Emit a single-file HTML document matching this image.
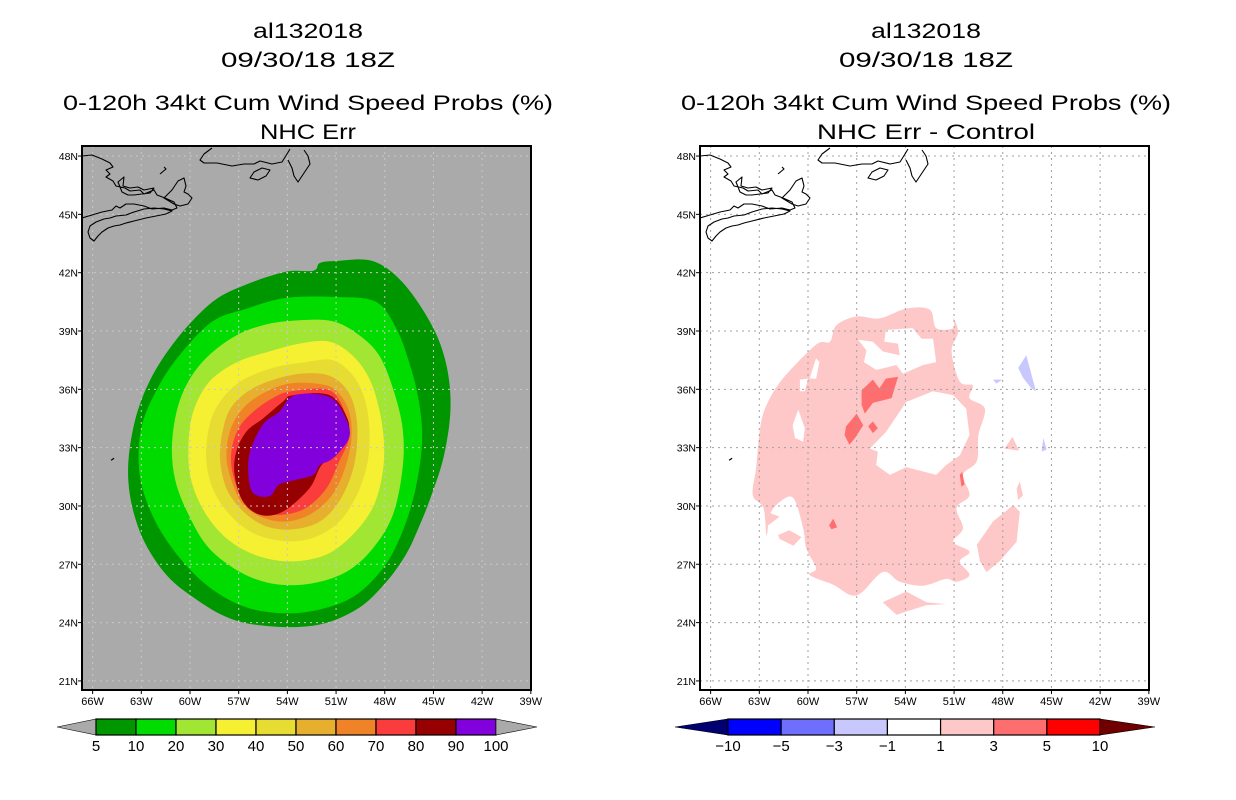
<!DOCTYPE html>
<html><head><meta charset="utf-8">
<style>
html,body{margin:0;padding:0;background:#fff;}
svg{display:block;}
text{font-family:"Liberation Sans",sans-serif;fill:#000;}
</style></head>
<body>
<svg id="chart" width="1236" height="800" viewBox="0 0 1236 800" xmlns="http://www.w3.org/2000/svg">
<defs>
<clipPath id="clipL"><rect x="82" y="146" width="449" height="544"/></clipPath>
<clipPath id="clipR"><rect x="700" y="146" width="449" height="544"/></clipPath>
</defs>
<g id="titles">
<text x="308" y="38" font-size="21" text-anchor="middle" textLength="110" lengthAdjust="spacingAndGlyphs">al132018</text>
<text x="308" y="67" font-size="21" text-anchor="middle" textLength="174" lengthAdjust="spacingAndGlyphs">09/30/18 18Z</text>
<text x="308" y="110" font-size="21" text-anchor="middle" textLength="490" lengthAdjust="spacingAndGlyphs">0-120h 34kt Cum Wind Speed Probs (%)</text>
<text x="308" y="139" font-size="21" text-anchor="middle" textLength="96" lengthAdjust="spacingAndGlyphs">NHC Err</text>
<text x="926" y="38" font-size="21" text-anchor="middle" textLength="110" lengthAdjust="spacingAndGlyphs">al132018</text>
<text x="926" y="67" font-size="21" text-anchor="middle" textLength="174" lengthAdjust="spacingAndGlyphs">09/30/18 18Z</text>
<text x="926" y="110" font-size="21" text-anchor="middle" textLength="490" lengthAdjust="spacingAndGlyphs">0-120h 34kt Cum Wind Speed Probs (%)</text>
<text x="926" y="139" font-size="21" text-anchor="middle" textLength="218" lengthAdjust="spacingAndGlyphs">NHC Err - Control</text>
</g>
<g id="left"></g>
<g id="right"></g>
<g id="cbars"></g>
</svg>
<script>
const latTicks=[48,45,42,39,36,33,30,27,24,21];
const lonTicks=[66,63,60,57,54,51,48,45,42,39];
const probLevels=[5,10,20,30,40,50,60,70,80,90,100];
const probColors=["#009600","#00dc00","#a0e632","#f5f032","#e6dc32","#e6af2d","#f08228","#fa3c3c","#960000","#8200dc"];
const diffLevels=[-10,-5,-3,-1,1,3,5,10];
const diffColors=["#000070","#0000ff","#6e6eff","#c8c8ff","#ffffff","#ffc8c8","#ff6e6e","#ff0000","#700000"];
const p5=[[51.0,42.6],[48.75,42.6],[46.9,41.5],[45.1,39.3],[44.2,37.25],[43.95,35.0],[44.35,32.6],[45.1,30.6],[45.9,28.9],[46.7,27.5],[47.9,26.1],[49.6,24.75],[52.0,23.9],[54.9,23.8],[57.5,24.2],[59.8,25.3],[61.6,26.6],[63.1,28.7],[63.8,31.3],[63.5,34.0],[62.5,36.4],[60.8,38.6],[58.6,40.5],[56.5,41.4],[54.1,42.05],[52.4,42.1],[52.0,42.5]];
const p10=[[51.0,40.75],[48.55,40.5],[47.3,39.15],[46.5,37.4],[45.9,35.4],[45.7,33.3],[46.1,30.9],[46.9,28.7],[48.1,26.8],[50.0,25.3],[52.4,24.6],[54.7,24.5],[56.9,24.9],[59.0,25.95],[60.8,27.5],[62.25,29.4],[63.1,31.6],[63.0,34.0],[62.0,36.05],[60.6,37.8],[58.6,39.5],[56.5,40.15],[54.1,40.7]];
const p20=[[53.25,39.55],[51.2,39.5],[49.6,38.8],[48.35,37.75],[47.5,36.05],[46.9,34.0],[46.9,31.95],[47.5,29.55],[48.75,27.8],[50.4,26.6],[52.6,26.0],[54.9,26.0],[56.9,26.6],[58.8,27.8],[60.0,29.4],[60.9,31.3],[61.1,33.3],[60.6,35.5],[59.4,37.25],[57.5,38.6],[55.5,39.3]];
const p30=[[53.25,38.35],[51.4,38.45],[50.0,37.75],[48.95,36.55],[48.35,35.0],[48.05,33.3],[48.15,31.6],[48.75,29.9],[50.0,28.5],[51.6,27.5],[53.65,27.15],[55.7,27.4],[57.55,28.2],[59.0,29.55],[59.9,31.25],[60.1,33.0],[59.8,34.85],[58.8,36.4],[57.1,37.4],[55.1,37.95]];
const p40=[[52.85,37.4],[51.2,37.5],[50.0,36.75],[49.25,35.55],[48.95,34.0],[49.05,32.3],[49.7,30.6],[50.8,29.2],[52.45,28.35],[54.3,28.2],[56.1,28.6],[57.55,29.55],[58.6,30.9],[59.0,32.45],[58.8,34.15],[58.15,35.35],[56.9,36.4],[54.9,37.1]];
const p50=[[53.65,36.75],[51.6,36.75],[50.4,36.05],[49.8,34.85],[49.7,33.3],[50.0,31.75],[50.8,30.25],[52.0,29.2],[53.65,28.8],[55.3,28.95],[56.7,29.7],[57.75,30.9],[58.15,32.45],[57.95,34.0],[57.35,35.2],[55.9,36.15]];
const p60=[[53.85,36.3],[51.6,36.2],[50.6,35.55],[50.1,34.5],[50.1,33.15],[50.6,31.6],[51.4,30.4],[52.65,29.55],[54.1,29.2],[55.5,29.4],[56.7,30.05],[57.35,31.1],[57.75,32.45],[57.55,33.8],[56.9,34.85],[55.7,35.7]];
const p70=[[53.75,35.9],[51.4,35.95],[50.4,34.7],[50.2,33.5],[50.8,32.3],[51.6,30.9],[52.85,29.9],[54.3,29.55],[55.7,29.7],[56.75,30.4],[57.35,31.6],[57.45,32.8],[57.0,34.0],[56.1,34.85],[54.9,35.55]];
const p80=[[53.65,35.7],[51.4,35.7],[50.3,34.5],[50.3,33.5],[51.0,32.6],[51.9,32.1],[52.65,30.9],[54.3,29.7],[55.7,29.55],[56.75,30.25],[57.25,31.6],[57.15,32.8],[56.5,33.85],[55.5,34.5],[54.3,35.35]];
const p90=[[53.55,35.7],[51.4,35.6],[50.4,34.5],[50.2,33.5],[51.2,32.45],[52.0,32.1],[52.4,31.6],[53.45,31.35],[54.5,31.1],[55.1,30.5],[56.1,30.65],[56.4,31.6],[56.3,32.8],[55.5,34.2],[54.5,34.85]];
const dPinkMain=[[58.25,39.3],[57.0,39.75],[55.6,39.65],[53.95,40.15],[52.5,40.1],[52.1,39.15],[51.05,39.15],[51.05,39.65],[50.75,38.95],[51.15,37.95],[50.65,36.4],[49.85,36.2],[50.05,35.55],[49.1,35.0],[49.5,33.65],[49.6,32.3],[50.45,31.6],[50.05,30.55],[50.85,29.9],[50.45,28.85],[51.05,28.15],[50.05,27.65],[50.65,27.15],[50.05,26.45],[50.85,26.1],[51.5,26.25],[52.9,25.9],[54.35,26.1],[55.4,26.6],[57.0,25.4],[58.45,25.95],[59.9,26.45],[59.5,26.8],[60.1,27.8],[60.3,28.85],[60.9,30.4],[61.75,30.2],[62.35,29.55],[62.55,28.5],[62.75,29.9],[63.4,30.55],[63.2,31.95],[62.95,34.0],[62.55,35.2],[61.55,36.55],[59.5,38.3],[58.65,38.45]];
const dHoleCenter=[[53.95,35.35],[52.3,35.9],[51.05,35.7],[50.25,35.0],[50.05,33.65],[50.65,32.6],[51.5,32.1],[52.1,31.6],[53.95,32.0],[54.95,31.6],[55.8,32.1],[55.7,32.8],[56.2,32.95],[55.2,33.8]];
const dHoleUpper=[[55.2,39.05],[53.55,39.15],[53.0,38.6],[52.3,38.6],[52.1,37.4],[52.9,37.25],[54.15,36.8],[54.55,37.25],[55.8,37.0],[56.55,37.4],[56.4,38.0],[56.9,38.55],[56.0,38.45],[55.4,37.95],[54.35,37.75],[54.45,38.35],[55.3,38.45]];
const dHoleA=[[60.6,34.95],[60.2,34.0],[60.3,33.3],[60.8,33.5],[60.95,34.15]];
const dHoleB=[[60.5,36.5],[60.0,36.55],[60.2,35.9],[60.5,35.9]];
const dHoleC=[[59.5,37.6],[59.3,37.4],[59.5,36.55],[59.9,36.55]];
const dPinkBottom=[[55.4,25.05],[53.95,25.6],[52.7,25.05],[51.5,24.95],[52.7,24.9],[54.55,24.4]];
const dPinkRight=[[49.6,28.0],[48.6,29.2],[47.35,30.05],[46.95,29.7],[47.15,28.15],[48.2,27.15],[49.0,26.6],[49.4,27.15]];
const dPinkSW1=[[62.55,29.7],[61.75,29.45],[62.45,29.0]];
const dPinkSW2=[[61.85,28.5],[61.15,28.75],[60.4,28.4],[60.9,27.95],[61.75,28.3]];
const dPinkE1=[[47.9,32.95],[47.4,33.55],[47.0,32.85]];
const dPinkE2=[[47.15,30.9],[46.95,31.25],[46.75,30.55],[47.05,30.3]];
const dRed1=[[56.7,35.95],[56.0,36.5],[55.6,36.05],[55.2,36.55],[54.45,36.65],[54.85,35.55],[56.0,35.3],[56.5,34.75],[56.7,35.2]];
const dRed2=[[57.0,34.75],[56.6,34.15],[57.1,33.5],[57.45,33.15],[57.75,33.65],[57.65,34.1]];
const dRed3=[[56.3,34.1],[56.0,34.35],[55.7,34.0],[56.0,33.75]];
const dRed4=[[58.7,29.0],[58.45,29.35],[58.2,28.9],[58.55,28.8]];
const dRed5=[[50.65,31.6],[50.5,31.75],[50.35,31.1],[50.55,31.0]];
const dBlue1=[[47.05,37.1],[46.55,37.75],[45.95,35.9],[46.25,36.05],[46.75,36.6]];
const dBlue2=[[45.5,33.5],[45.3,32.9],[45.6,32.8]];
const dBlue3=[[48.6,36.5],[48.0,36.5],[48.4,36.3]];

const NS="http://www.w3.org/2000/svg";
function xOf(w,off){return 190+(60-w)*16.23+off;}
function yOf(lat){return 331+(39-lat)*19.44;}
function mk(tag,attrs,parent){const e=document.createElementNS(NS,tag);for(const k in attrs)e.setAttribute(k,attrs[k]);parent.appendChild(e);return e;}
function polyPts(arr,off){return arr.map(p=>xOf(p[0],off).toFixed(1)+","+yOf(p[1]).toFixed(1)).join(" ");}
function smoothPath(arr,off){
  const P=arr.map(p=>[xOf(p[0],off),yOf(p[1])]);const n=P.length;
  let d="M"+P[0][0].toFixed(1)+","+P[0][1].toFixed(1);
  for(let i=0;i<n;i++){
    const p0=P[(i-1+n)%n],p1=P[i],p2=P[(i+1)%n],p3=P[(i+2)%n];
    const c1x=p1[0]+(p2[0]-p0[0])/6,c1y=p1[1]+(p2[1]-p0[1])/6;
    const c2x=p2[0]-(p3[0]-p1[0])/6,c2y=p2[1]-(p3[1]-p1[1])/6;
    d+=" C"+c1x.toFixed(1)+","+c1y.toFixed(1)+" "+c2x.toFixed(1)+","+c2y.toFixed(1)+" "+p2[0].toFixed(1)+","+p2[1].toFixed(1);
  }
  return d+"Z";
}

const coast="M0,10 L10,9 L20,13 L28,17 L31,21 L24,24 L28,28 L24,31 L31,35 L34,40 L43,42 L48,45 L58,44 L62,48 L72,44 L75,49 L83,52 L92,56 L95,62 L90,64 L82,62 L70,63 L62,60 L52,58 L44,58 L38,62 L34,60 L30,64 L20,66 L10,69 L0,72 "+
"M8,80 L14,76 L22,73 L28,72 L34,70 L44,69 L52,66 L62,63 L72,62 L82,63 L90,65 L84,68 L74,70 L64,72 L52,75 L44,77 L38,79 L32,80 L26,82 L20,86 L16,90 L12,95 L8,92 L6,86 Z "+
"M36,36 L42,31 L41,40 L48,42 L56,41 L62,44 L72,42 L68,47 L60,48 L52,49 L46,49 L40,46 Z "+
"M82,52 L90,44 L96,35 L102,32 L104,40 L102,46 L106,48 L110,52 L106,58 L98,60 L92,58 Z "+
"M78,28 L84,23 L82,21 "+
"M130,2 L122,8 L118,14 L122,17 L135,17 L150,20 L162,18 L172,18 L178,15 L190,18 L200,16 L205,8 L208,3 "+
"M168,32 L172,26 L180,22 L188,24 L184,30 L176,34 Z "+
"M206,14 L210,22 L212,30 L216,36 L220,30 L224,24 L228,18 L226,10 L222,4";

function panel(gId,off,isProb){
  const g=document.getElementById(gId);
  const x0=82+off,y0=146,w=449,h=544;
  const bg=mk("rect",{x:x0,y:y0,width:w,height:h,fill:isProb?"#aaaaaa":"#ffffff"},g);
  
  
  const cg=mk("g",{"clip-path":"url(#"+(isProb?"clipL":"clipR")+")"},g);
  
  
  function add(arr,fill,name){
    const p=mk("polygon",{points:polyPts(arr,off),fill:fill},cg);
    
    
  }
  function addS(arr,fill,name){
    const p=mk("path",{d:smoothPath(arr,off),fill:fill},cg);
    
    
  }
  if(isProb){
    const polys=[p5,p10,p20,p30,p40,p50,p60,p70,p80,p90];
    polys.forEach((arr,i)=>addS(arr,probColors[i],"contour-"+probLevels[i]+"pct"));
  } else {
    addS(dPinkMain,diffColors[5],"diff-pink-main");
    add(dHoleCenter,"#ffffff","diff-hole-center");
    add(dHoleUpper,"#ffffff","diff-hole-upper");
    add(dHoleA,"#ffffff","diff-hole-a");
    add(dHoleB,"#ffffff","diff-hole-b");
    add(dHoleC,"#ffffff","diff-hole-c");
    [dPinkBottom,dPinkRight,dPinkSW1,dPinkSW2,dPinkE1,dPinkE2].forEach((a,i)=>add(a,diffColors[5],"diff-pink-patch-"+i));
    [dRed1,dRed2,dRed3,dRed4,dRed5].forEach((a,i)=>add(a,diffColors[6],"diff-red-patch-"+i));
    [dBlue1,dBlue2,dBlue3].forEach((a,i)=>add(a,diffColors[3],"diff-blue-patch-"+i));
  }
  const gg=mk("g",{stroke:isProb?"#c8c8c8":"#a0a0a0","stroke-width":1,"stroke-dasharray":"2,4"},cg);
  
  
  lonTicks.forEach(l=>{const x=xOf(l,off);mk("line",{x1:x,y1:y0,x2:x,y2:y0+h},gg);});
  latTicks.forEach(l=>{const y=yOf(l);mk("line",{x1:x0,y1:y,x2:x0+w,y2:y},gg);});
  const c=mk("path",{d:coast,transform:"translate("+x0+","+y0+")",fill:"none",stroke:"#000","stroke-width":1.1,"stroke-linejoin":"round"},cg);
  
  
  const bm=mk("path",{d:"M"+(xOf(64.8,off)-1)+","+yOf(32.35)+" l3,-2",stroke:"#000","stroke-width":1.2,fill:"none"},cg);
  
  
  const fr=mk("rect",{x:x0,y:y0,width:w,height:h,fill:"none",stroke:"#000","stroke-width":2},g);
  
  
  latTicks.forEach(l=>{
    const y=yOf(l);
    mk("line",{x1:x0-4,y1:y,x2:x0,y2:y,stroke:"#000"},g);
    const t=mk("text",{x:x0-4,y:y+4,"font-size":10.5,"text-anchor":"end"},g);
    t.textContent=l+"N";
    
    
  });
  lonTicks.forEach(l=>{
    const x=xOf(l,off);
    mk("line",{x1:x,y1:y0+h,x2:x,y2:y0+h+4,stroke:"#000"},g);
    const t=mk("text",{x:x,y:y0+h+15,"font-size":11,"text-anchor":"middle"},g);
    t.textContent=l+"W";
    
    
  });
}
panel("left",0,true);
panel("right",618,false);

function cbar(levels,colors,xStart,xEnd,tipL,tipR,name){
  const g=document.getElementById("cbars");
  const sub=mk("g",{},g);
  
  
  const y1=719,y2=735,ym=727;
  const n=levels.length-1;
  const bw=(xEnd-xStart)/n;
  const tl=mk("polygon",{points:tipL+","+ym+" "+xStart+","+y1+" "+xStart+","+y2,fill:colors[0],stroke:"#000","stroke-width":0.6},sub);
  
  
  const off=colors.length>n?1:0;
  for(let i=0;i<n;i++){
    const r=mk("rect",{x:xStart+i*bw,y:y1,width:bw,height:y2-y1,fill:colors[i+off],stroke:"#000","stroke-width":1.2},sub);
    
    
  }
  const tr=mk("polygon",{points:xEnd+","+y1+" "+tipR+","+ym+" "+xEnd+","+y2,fill:colors[colors.length-1],stroke:"#000","stroke-width":0.6},sub);
  
  
  levels.forEach((v,i)=>{
    const t=mk("text",{x:xStart+i*bw,y:751,"font-size":15,"text-anchor":"middle"},sub);
    t.textContent=v<0?"\u2212"+(-v):String(v);
    
    
  });
}
cbar(probLevels,["#aaaaaa"].concat(probColors).concat(["#aaaaaa"]),96,496,57,537,"probability-colorbar");
cbar(diffLevels,diffColors,728,1100,675,1155,"difference-colorbar");
</script>
</body></html>
